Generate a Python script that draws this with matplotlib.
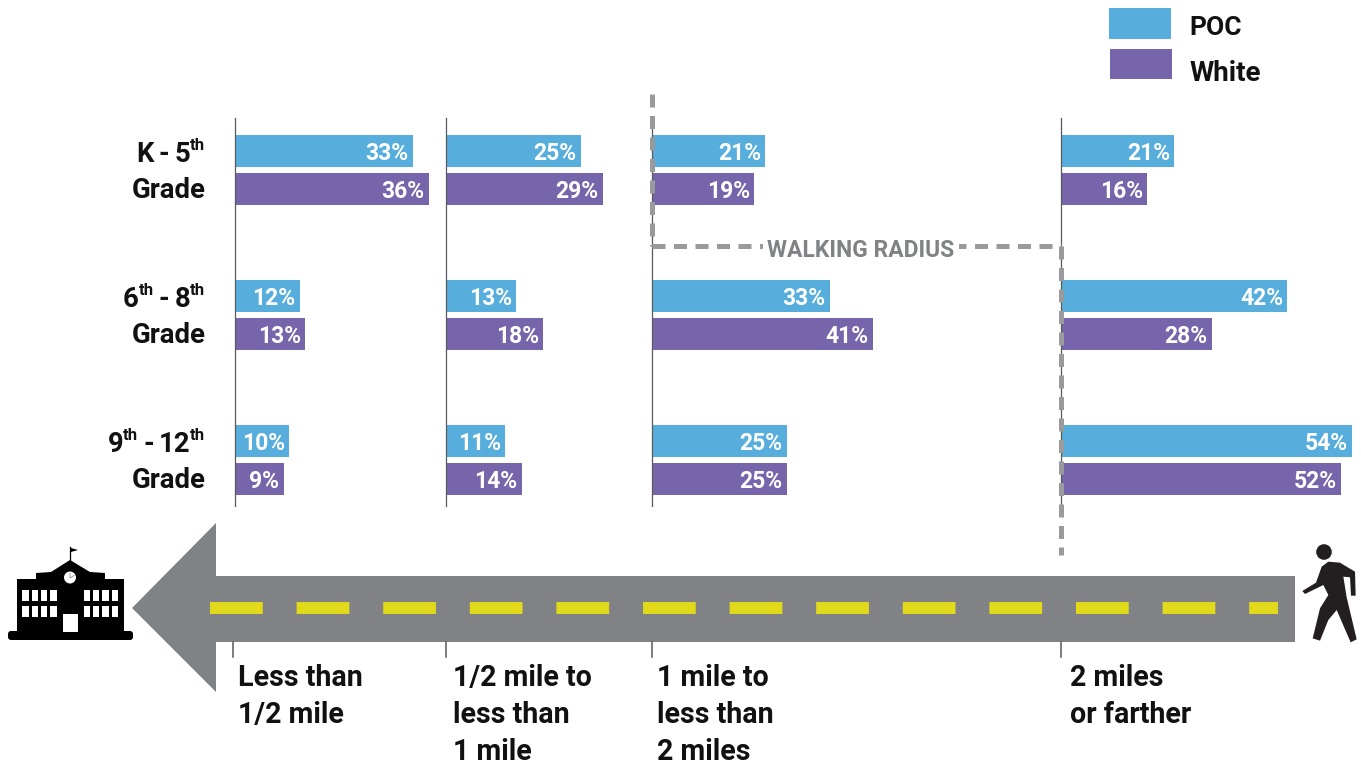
#!/usr/bin/env python3
"""Distance to school by grade band, POC vs White students."""

import matplotlib
matplotlib.use("Agg")
import matplotlib.pyplot as plt
from matplotlib.patches import Circle, FancyBboxPatch, Polygon, Rectangle
import numpy as np

W, H = 1361, 765
DPI = 100

distance_labels = ["Less than\n1/2 mile", "1/2 mile to\nless than\n1 mile",
                   "1 mile to\nless than\n2 miles", "2 miles\nor farther"]
series_names = ["POC", "White"]

# one row per grade band, one column per distance bucket
poc_values = np.array([[33, 25, 21, 21],
                       [12, 13, 33, 42],
                       [10, 11, 25, 54]])
white_values = np.array([[36, 29, 19, 16],
                         [13, 18, 41, 28],
                         [9, 14, 25, 52]])

COLOR_POC = "#57aedd"
COLOR_WHITE = "#7765ab"
COLOR_ROAD = "#808285"
COLOR_LINE = "#58595b"
COLOR_DASH = "#999a9c"
COLOR_STRIPE = "#e1da1a"
COLOR_INK = "#111111"

PX_PER_PCT = 5.39
panel_left = [235, 446.2, 652, 1061]
panel_right = [446, 652, 1061, 1361]
tick_x = [233.5, 446.5, 652, 1061]
label_x = [238, 453, 657.5, 1070]
ROW_STEP = 145
ROW_FIRST = 170
PANEL_TOP, PANEL_BOTTOM = 118, 506

plt.rcParams["font.family"] = ["Roboto", "DejaVu Sans"]
plt.rcParams["font.weight"] = "bold"

fig = plt.figure(figsize=(W / DPI, H / DPI), dpi=DPI, facecolor="white")

# bar panels, each with its own percent scale
for j, (left, right) in enumerate(zip(panel_left, panel_right)):
    ax = fig.add_axes([left / W, 1 - PANEL_BOTTOM / H, (right - left) / W,
                       (PANEL_BOTTOM - PANEL_TOP) / H])
    ax.set_xlim(0, (right - left) / PX_PER_PCT)
    ax.set_ylim((PANEL_BOTTOM - ROW_FIRST) / ROW_STEP, (PANEL_TOP - ROW_FIRST) / ROW_STEP)
    ax.patch.set_alpha(0)
    for side in ["top", "right", "bottom"]:
        ax.spines[side].set_visible(False)
    ax.spines["left"].set_color(COLOR_LINE)
    ax.spines["left"].set_linewidth(0.9)
    ax.set_xticks([])
    ax.set_yticks([])
    rows = np.arange(3)
    offset = 19 / ROW_STEP
    bar_h = 32 / ROW_STEP
    for vals, sign, color in [(poc_values[:, j], -1, COLOR_POC),
                              (white_values[:, j], 1, COLOR_WHITE)]:
        ax.barh(rows + sign * offset, vals, height=bar_h, color=color)
        for r, v in zip(rows, vals):
            ax.annotate(f"{v}%", xy=(v, r + sign * offset), xytext=(-3.0, 0),
                        textcoords="offset points", ha="right", va="center_baseline",
                        color="white", fontsize=16.5)

# overlay in pixel coordinates for the road, icons and annotations
ov = fig.add_axes([0, 0, 1, 1], zorder=5)
ov.set_xlim(0, W)
ov.set_ylim(H, 0)
ov.axis("off")

# road arrow pointing at the school
ov.add_patch(Polygon([(132, 608), (216, 523), (216, 576), (1295, 576), (1295, 642),
                      (216, 642), (216, 692)], closed=True, color=COLOR_ROAD, lw=0))
ov.plot([210, 1278], [608, 608], color=COLOR_STRIPE, lw=8.6,
        dashes=(53 / 12, 34 / 12), dash_capstyle="butt")

for x, lx, label in zip(tick_x, label_x, distance_labels):
    ov.plot([x, x], [642, 657], color=COLOR_LINE, lw=1.1)
    for k, line in enumerate(label.split("\n")):
        ov.text(lx, 675 + 37 * k, line, ha="left", va="center_baseline",
                color=COLOR_INK, fontsize=20.6)

# walking radius bracket
dash_style = dict(color=COLOR_DASH, lw=3.6, dashes=(2.6, 1.7), dash_capstyle="butt", zorder=6)
ov.plot([652, 652], [94, 246], **dash_style)
ov.plot([652, 1061], [246, 246], **dash_style)
ov.plot([1061, 1061], [246, 555], **dash_style)
ov.text(861, 248, "WALKING RADIUS", ha="center", va="center_baseline", color=COLOR_ROAD,
        fontsize=16.5, zorder=7,
        bbox=dict(facecolor="white", edgecolor="none", pad=3))

# grade labels, assembled right to left so the superscripts sit correctly
renderer = fig.canvas.get_renderer()


def right_aligned(x, y, parts):
    for txt, sup in reversed(parts):
        gap = 5 if txt == "-" else 0
        x -= gap
        t = ov.text(x, y - 7 if sup else y, txt, ha="right", va="center_baseline",
                    color=COLOR_INK, fontsize=12 if sup else 19.8)
        x -= t.get_window_extent(renderer).width + gap


grade_rows = [[("K", False), ("-", False), ("5", False), ("th", True)],
              [("6", False), ("th", True), ("-", False), ("8", False), ("th", True)],
              [("9", False), ("th", True), ("-", False), ("12", False), ("th", True)]]
for r, parts in enumerate(grade_rows):
    right_aligned(205.5, 151 + ROW_STEP * r, parts)
    right_aligned(205.5, 187 + ROW_STEP * r, [("Grade", False)])

# legend
ov.add_patch(Rectangle((1109, 8), 62, 31, color=COLOR_POC, lw=0))
ov.add_patch(Rectangle((1110, 49), 62, 30, color=COLOR_WHITE, lw=0))
ov.text(1189, 25, series_names[0], ha="left", va="center_baseline", color=COLOR_INK, fontsize=19)
ov.text(1190, 70, series_names[1], ha="left", va="center_baseline", color=COLOR_INK, fontsize=20)

# school icon
ov.add_patch(Rectangle((17, 579), 107, 54, color="black", lw=0))
ov.add_patch(FancyBboxPatch((11, 634), 119, 3, boxstyle="round,pad=3", color="black", lw=0))
ov.add_patch(Polygon([(36, 579), (36, 573), (51, 572), (70, 560), (90, 572), (105, 573), (105, 579)],
                     closed=True, color="black", lw=0))
ov.plot([70.5, 70.5], [547, 561], color="black", lw=0.9)
ov.add_patch(Polygon([(71, 548), (78, 550), (71, 552)], closed=True, color="black", lw=0))
ov.add_patch(Circle((70, 577.5), 6, color="white", lw=0))
ov.plot([70, 70, 74], [573, 578, 575.5], color="#777777", lw=0.5)
for wx in [22.5, 32, 41, 50.5, 84, 93, 102.5, 112]:
    for wy, wh in [(590, 10.5), (606, 10.5)]:
        ov.add_patch(Rectangle((wx, wy), 6.5, wh, color="white", lw=0))
ov.add_patch(Rectangle((63, 614), 15, 18, color="white", lw=0))

# pedestrian icon
COLOR_WALKER = "#231f20"
walker = np.array([(445, 125), (480, 128), (525, 155), (527, 227), (513, 227), (510, 172),
                   (490, 170), (500, 232), (530, 358), (512, 367), (470, 270), (445, 300),
                   (420, 362), (398, 355), (420, 265), (445, 225), (430, 195), (375, 222),
                   (367, 213), (408, 188), (425, 140)]) / 3 + [1180, 520]
ov.add_patch(Polygon(walker, closed=True, color=COLOR_WALKER, lw=0))
ov.add_patch(Circle((1324, 552), 7.8, color=COLOR_WALKER, lw=0))

fig.savefig("out.png", dpi=DPI)
